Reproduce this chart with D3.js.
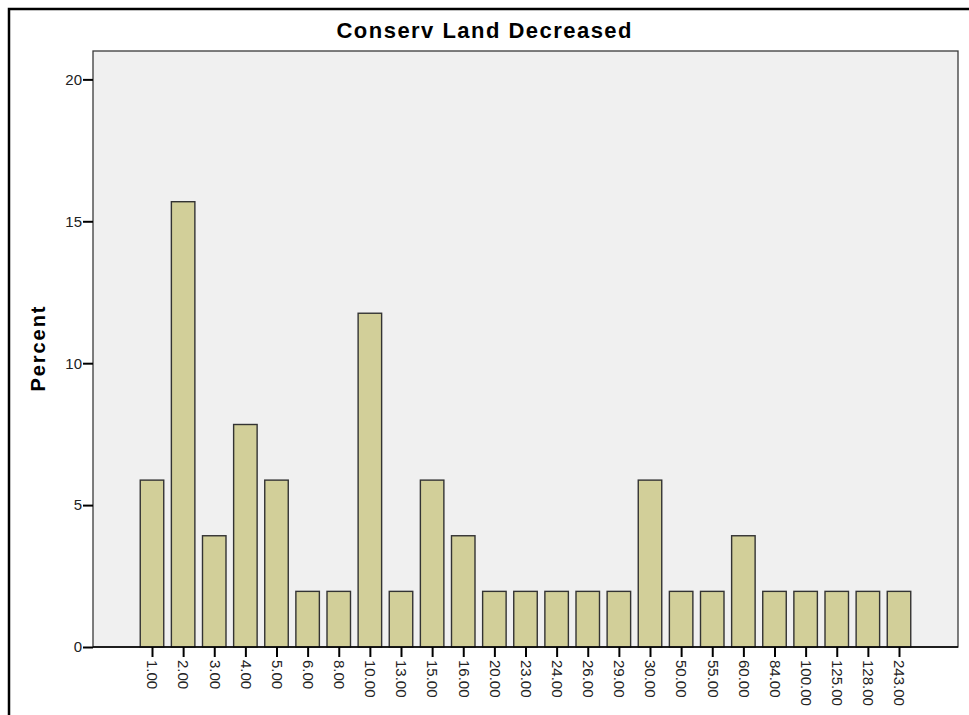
<!DOCTYPE html>
<html>
<head>
<meta charset="utf-8">
<script src="https://cdn.jsdelivr.net/npm/d3@7"></script>
<style>
  body { margin: 0; background: #fff; }
  svg { display: block; font-family: "Liberation Sans", Arial, sans-serif; }
</style>
</head>
<body>
<svg id="chart"></svg>
<script>
var width = 969;
var height = 715;

// values (percent of cases)
var categories = ['1.00', '2.00', '3.00', '4.00', '5.00', '6.00', '8.00', '10.00', '13.00',
  '15.00', '16.00', '20.00', '23.00', '24.00', '26.00', '29.00', '30.00', '50.00', '55.00',
  '60.00', '84.00', '100.00', '125.00', '128.00', '243.00'];
var percents = [5.88, 15.69, 3.92, 7.84, 5.88, 1.96, 1.96, 11.76, 1.96,
  5.88, 3.92, 1.96, 1.96, 1.96, 1.96, 1.96, 5.88, 1.96, 1.96,
  3.92, 1.96, 1.96, 1.96, 1.96, 1.96];
var yTicks = [0, 5, 10, 15, 20];

var plot = { left: 93, top: 51, right: 958, bottom: 647 };

var svg = d3.select('#chart')
  .attr('width', width)
  .attr('height', height);

// outer frame (right and bottom edges fall outside the picture)
svg.append('rect')
  .attr('x', 9).attr('y', 9)
  .attr('width', width + 20).attr('height', height + 20)
  .attr('fill', 'none')
  .attr('stroke', '#000')
  .attr('stroke-width', 2.5);

var x = d3.scalePoint()
  .domain(categories)
  .range([152, 899]);

var y = d3.scaleLinear()
  .domain([0, 21])
  .range([plot.bottom, plot.top]);

var barWidth = x.step() * 0.755;

// plot background
svg.append('rect')
  .attr('x', plot.left).attr('y', plot.top)
  .attr('width', plot.right - plot.left)
  .attr('height', plot.bottom - plot.top)
  .attr('fill', '#f0f0f0')
  .attr('stroke', '#3a3a3a')
  .attr('stroke-width', 1.3);

// bars
svg.append('g').selectAll('rect')
  .data(categories)
  .enter().append('rect')
  .attr('x', function (d) { return x(d) - barWidth / 2; })
  .attr('width', barWidth)
  .attr('y', function (d, i) { return y(percents[i]); })
  .attr('height', function (d, i) { return y(0) - y(percents[i]); })
  .attr('fill', '#d2cf99')
  .attr('stroke', '#333')
  .attr('stroke-width', 1.4);

// y axis
var yAxis = d3.axisLeft(y)
  .tickValues(yTicks)
  .tickSize(10)
  .tickPadding(1)
  .tickFormat(d3.format('d'));

var gy = svg.append('g')
  .attr('transform', 'translate(' + plot.left + ',0)')
  .call(yAxis);
gy.select('.domain').remove();
gy.selectAll('line').attr('stroke', '#000').attr('stroke-width', 2);
gy.selectAll('text')
  .attr('font-size', 15)
  .attr('fill', '#222')
  .attr('font-family', '"Liberation Sans", Arial, sans-serif');

// x axis
var xAxis = d3.axisBottom(x)
  .tickSize(10)
  .tickSizeOuter(0);

var gx = svg.append('g')
  .attr('transform', 'translate(0,' + plot.bottom + ')')
  .call(xAxis);
gx.select('.domain').remove();
gx.selectAll('line').attr('stroke', '#000').attr('stroke-width', 2);
gx.selectAll('text')
  .attr('font-size', 15)
  .attr('fill', '#222')
  .attr('font-family', '"Liberation Sans", Arial, sans-serif')
  .attr('transform', 'rotate(90)')
  .attr('x', 13)
  .attr('y', 0)
  .attr('dy', '0.35em')
  .attr('text-anchor', 'start');

// bottom axis line
svg.append('line')
  .attr('x1', plot.left).attr('x2', plot.right)
  .attr('y1', plot.bottom).attr('y2', plot.bottom)
  .attr('stroke', '#000')
  .attr('stroke-width', 1.5);

// title
svg.append('text')
  .attr('x', 484)
  .attr('y', 38)
  .attr('text-anchor', 'middle')
  .attr('font-size', 22)
  .attr('font-weight', 'bold')
  .attr('textLength', 295)
  .attr('lengthAdjust', 'spacing')
  .text('Conserv Land Decreased');

// y label
svg.append('text')
  .attr('transform', 'translate(45,349) rotate(-90)')
  .attr('text-anchor', 'middle')
  .attr('font-size', 20)
  .attr('font-weight', 'bold')
  .attr('textLength', 85)
  .attr('lengthAdjust', 'spacing')
  .text('Percent');
</script>
</body>
</html>
